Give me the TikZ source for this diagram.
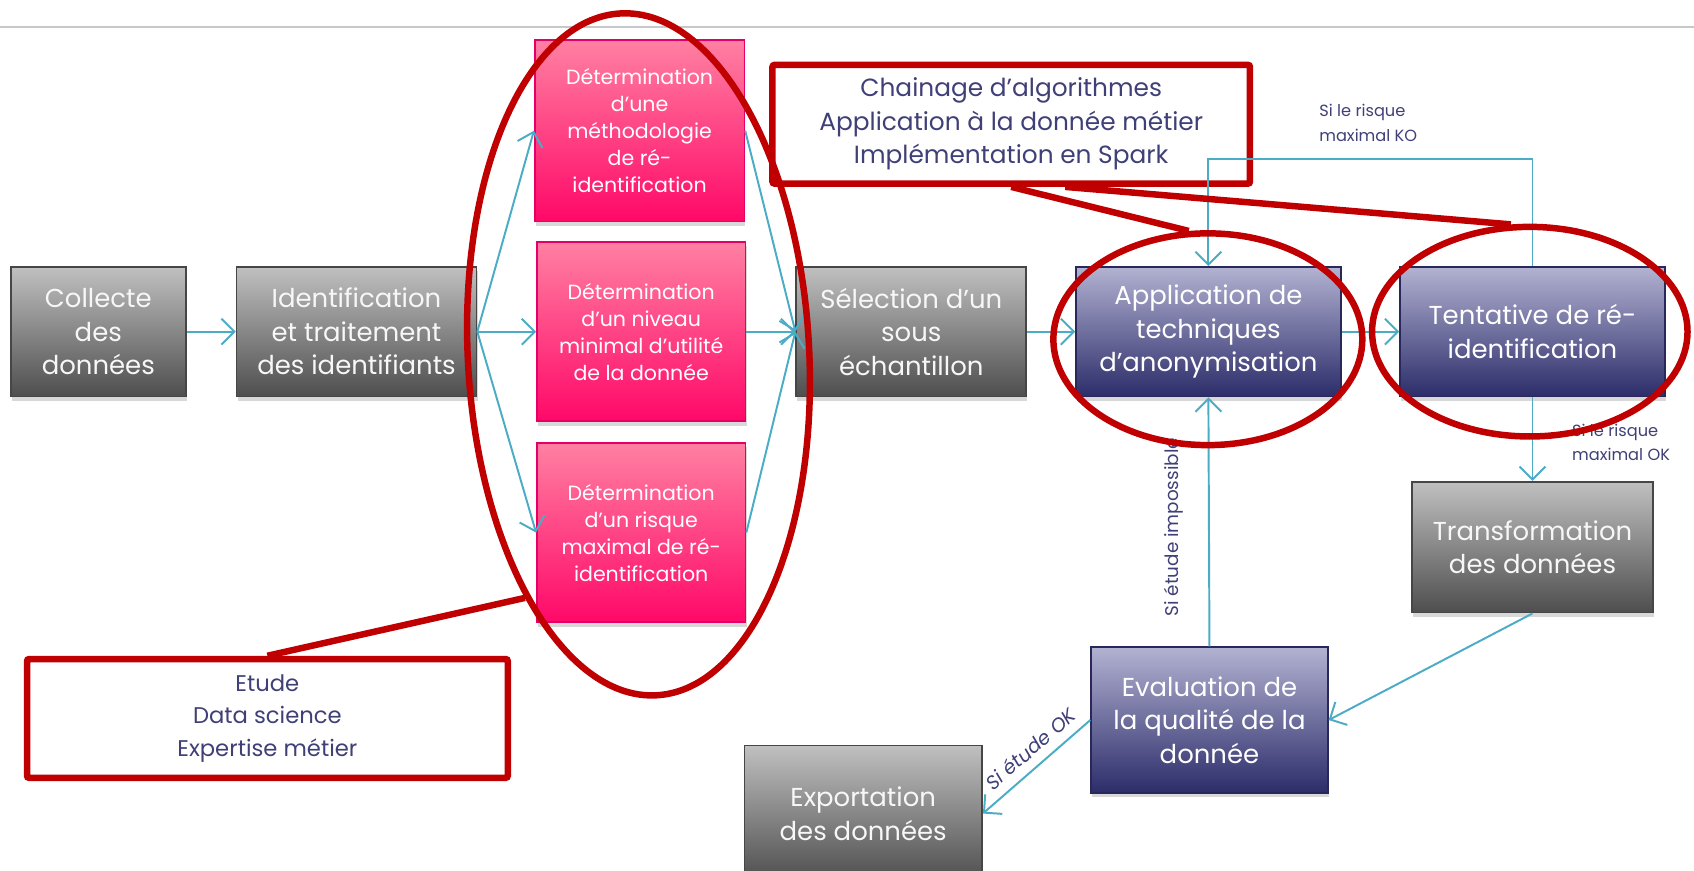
\documentclass[tikz,border=0pt]{standalone}
\usepackage{fontspec}
\setmainfont{Poppins}
\usetikzlibrary{shapes.geometric,arrows.meta,shadows,calc}
\definecolor{cy}{RGB}{75,172,198}
\definecolor{rd}{RGB}{192,0,0}
\definecolor{nv}{RGB}{64,64,120}
\definecolor{gT}{RGB}{192,192,192}
\definecolor{gB}{RGB}{78,78,78}
\definecolor{gE}{RGB}{70,70,70}
\definecolor{pT}{RGB}{255,128,162}
\definecolor{pB}{RGB}{255,8,104}
\definecolor{pE}{RGB}{228,0,104}
\definecolor{nT}{RGB}{178,178,210}
\definecolor{nB}{RGB}{44,44,106}
\definecolor{nE}{RGB}{40,40,90}
\definecolor{topline}{RGB}{200,200,200}
\begin{document}
\begin{tikzpicture}[x=1pt,y=-1pt,
  box/.style={draw, line width=1.6pt, inner sep=2pt, align=center, text=white,
    font=\fontsize{24}{31}\selectfont,
    drop shadow={shadow xshift=1pt,shadow yshift=-4pt,opacity=0.3}},
  graybox/.style={box, draw=gE, top color=gT, bottom color=gB, text=white!94!gray},
  pinkbox/.style={box, draw=pE, top color=pT, bottom color=pB, font=\fontsize{19}{25}\selectfont},
  navybox/.style={box, draw=nE, top color=nT, bottom color=nB},
  callout/.style={draw=rd, line width=6pt, fill=white, rounded corners=2pt, align=center, text=nv},
  arr/.style={draw=cy, line width=1.8pt, -{Straight Barb[length=12pt,width=24pt]}},
  lbl/.style={text=nv, inner sep=0pt, font=\fontsize{15}{23}\selectfont},
  redell/.style={ellipse, draw=rd, line width=6pt, inner sep=0pt},
  redline/.style={draw=rd, line width=6pt}
]
\useasboundingbox (0,0) rectangle (1568,806);
\clip (0,0) rectangle (1568,806);
\fill[white] (0,0) rectangle (1568,806);
\draw[topline, line width=2pt] (0,25) -- (1568,25);

% callout boxes
\node[callout, minimum width=442pt, minimum height=110pt, font=\fontsize{23}{31}\selectfont] (chain) at (936,115)
  {Chainage d’algorithmes\\Application à la donnée métier\\Implémentation en Spark};
\node[callout, minimum width=445pt, minimum height=110pt, font=\fontsize{21}{30}\selectfont] (etude) at (247.5,665)
  {Etude\\Data science\\Expertise métier};

% process boxes
\node[graybox, minimum width=162pt, minimum height=120pt] (col) at (91,307) {Collecte\\des\\données};
\node[graybox, minimum width=222pt, minimum height=120pt] (ident) at (330,307) {Identification\\et traitement\\des identifiants};
\node[pinkbox, minimum width=194pt, minimum height=168pt] (p1) at (592,121) {Détermination\\d’une\\méthodologie\\de ré-\\identification};
\node[pinkbox, minimum width=193pt, minimum height=166pt] (p2) at (593.5,307) {Détermination\\d’un niveau\\minimal d’utilité\\de la donnée};
\node[pinkbox, minimum width=193pt, minimum height=166pt] (p3) at (593.5,493) {Détermination\\d’un risque\\maximal de ré-\\identification};
\node[graybox, minimum width=213pt, minimum height=120pt] (sel) at (843.5,307) {Sélection d’un\\sous\\échantillon};
\node[navybox, minimum width=245pt, minimum height=120pt] (app) at (1118.5,307) {Application de\\techniques\\d’anonymisation};
\node[navybox, minimum width=245pt, minimum height=120pt] (tent) at (1418.5,307) {Tentative de ré-\\identification};
\node[graybox, minimum width=223pt, minimum height=121pt] (transf) at (1418.5,506.5) {Transformation\\des données};
\node[navybox, minimum width=219pt, minimum height=135pt] (eval) at (1119.5,666.5) {Evaluation de\\la qualité de la\\donnée};
\node[graybox, minimum width=220pt, minimum height=126pt] (export) at (799,753) {Exportation\\des données};

% connectors
\draw[arr] (col) -- (ident);
\draw[arr] (ident.east) -- (p1.west);
\draw[arr] (ident.east) -- (p2.west);
\draw[arr] (ident.east) -- (p3.west);
\draw[arr] (p1.east) -- (sel.west);
\draw[arr] (p2.east) -- (sel.west);
\draw[arr] (p3.east) -- (sel.west);
\draw[arr] (sel) -- (app);
\draw[arr] (app) -- (tent);
\draw[arr] (tent.north) -- ++(0,-99) -| (app.north);
\draw[arr] (tent.south) -- (transf.north);
\draw[arr] (transf.south) -- (eval.east);
\draw[arr] (eval.north) -- (app.south);
\draw[arr] (eval.west) -- (export.east);

% labels
\node[lbl, anchor=north west, align=left] (ko) at (1221,96) {Si le risque\\maximal KO};
\node[lbl, anchor=north west, align=left] (ok) at (1455,392) {Si le risque\\maximal OK};
\node[lbl, rotate=90, font=\fontsize{17}{20}\selectfont] (imp) at (1086,488) {Si étude impossible};
\path (export.east) -- node[lbl, sloped, pos=0.55, above=9pt, font=\fontsize{18}{20}\selectfont\itshape] (sok) {Si étude OK} (eval.west);

% red highlights
\node[redell, minimum width=316pt, minimum height=632pt, rotate=3] (E1) at (591,328) {};
\node[redell, minimum width=286pt, minimum height=196pt] (E2) at (1118,314) {};
\node[redell, minimum width=292pt, minimum height=194pt] (E3) at (1416,307) {};
\draw[redline] (etude.north) -- (E1.242);
\draw[redline] (chain.south) -- (E2.100);
\draw[redline] ([xshift=50pt]chain.south) -- (E3.100);
\end{tikzpicture}
\end{document}
